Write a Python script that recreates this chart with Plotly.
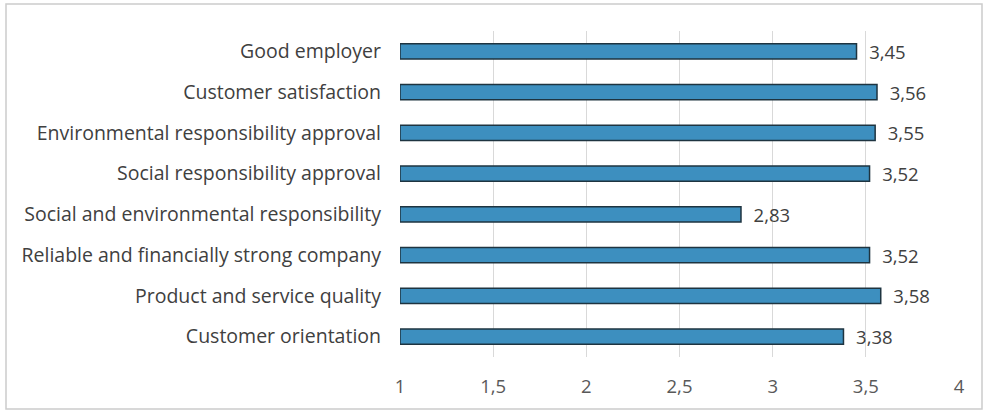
import plotly.graph_objects as go

categories = [
    "Good employer",
    "Customer satisfaction",
    "Environmental responsibility approval",
    "Social responsibility approval",
    "Social and environmental responsibility",
    "Reliable and financially strong company",
    "Product and service quality",
    "Customer orientation",
]
values = [3.45, 3.56, 3.55, 3.52, 2.83, 3.52, 3.58, 3.38]
tick_vals = [1, 1.5, 2, 2.5, 3, 3.5, 4]
tick_text = ["1", "1,5", "2", "2,5", "3", "3,5", "4"]
value_labels = ["\u00a0\u00a0" + f"{v:.2f}".replace(".", ",") for v in values]

FONT = "Open Sans"

fig = go.Figure(go.Bar(
    y=categories,
    x=[v - 1 for v in values],
    base=1,
    orientation="h",
    marker=dict(color="#3d8fbf", line=dict(color="#1e3440", width=1.5)),
    width=0.37,
    text=value_labels,
    textposition="outside",
    constraintext="none",
    textfont=dict(family=FONT, size=18.5, color="#404040"),
    cliponaxis=False,
    hoverinfo="skip",
))

W, H = 985, 414
L, R, T, B = 400, 26, 31, 57
pw, ph = W - L - R, H - T - B

def px_to_paper_x(px):
    return (px - L) / pw

def px_to_paper_y(py):
    return 1 - (py - T) / ph

fig.update_layout(
    width=W, height=H,
    margin=dict(l=L, r=R, t=T, b=B, autoexpand=False),
    paper_bgcolor="white",
    plot_bgcolor="white",
    showlegend=False,
    font=dict(family=FONT, size=18, color="#404040"),
    xaxis=dict(
        range=[1, 4],
        tickvals=tick_vals,
        ticktext=tick_text,
        showgrid=True,
        gridcolor="#d9d9d9",
        gridwidth=1,
        zeroline=False,
        showline=False,
        ticks="",
        tickfont=dict(family=FONT, size=18.5, color="#595959"),
        ticklabelstandoff=16,
        automargin=False,
    ),
    yaxis=dict(
        autorange="reversed",
        showgrid=False,
        showline=False,
        ticks="",
        tickfont=dict(family=FONT, size=19.5, color="#404040"),
        ticklabelstandoff=18,
        automargin=False,
    ),
    shapes=[dict(
        type="rect", xref="paper", yref="paper",
        x0=px_to_paper_x(6), x1=px_to_paper_x(982),
        y0=px_to_paper_y(409), y1=px_to_paper_y(4),
        line=dict(color="#cccccc", width=1.5),
        fillcolor="rgba(0,0,0,0)",
        layer="below",
    )],
)

fig.write_html("out.html", config={"displayModeBar": False},
               post_script="document.body.style.margin='0';")
